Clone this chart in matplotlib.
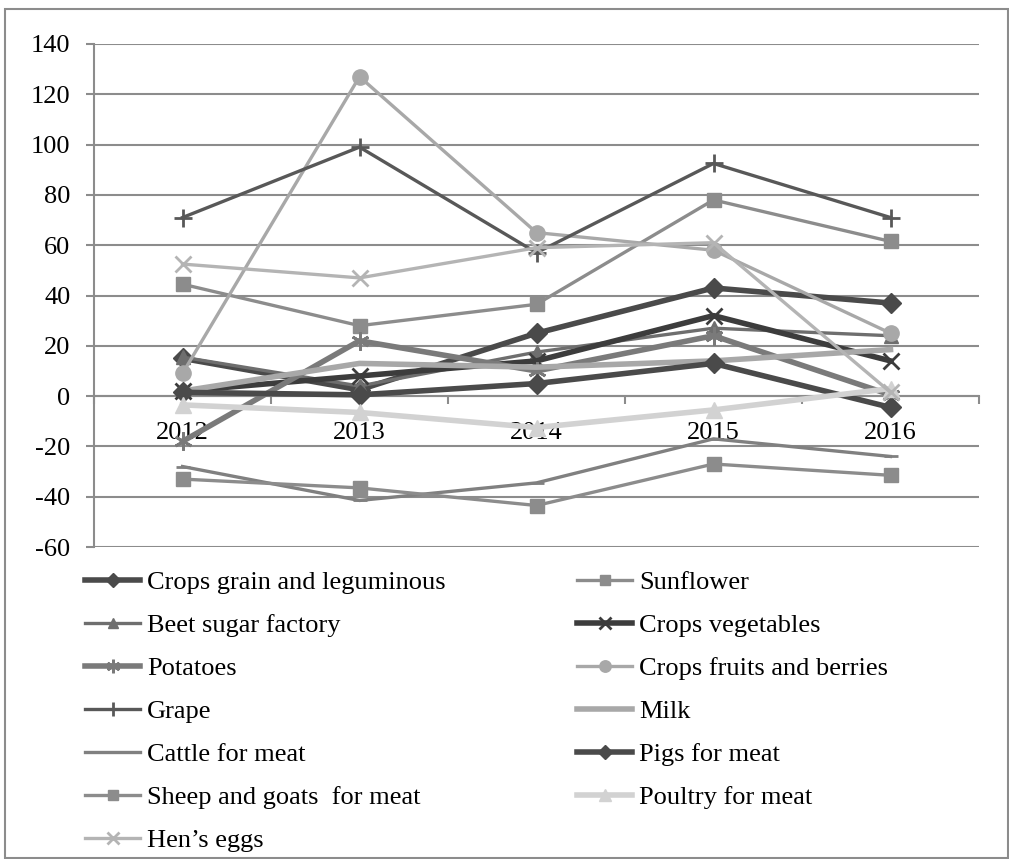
import matplotlib
matplotlib.use('Agg')
import matplotlib.pyplot as plt
from matplotlib.patches import Rectangle

plt.rcParams['font.family'] = ['Liberation Serif', 'DejaVu Serif']
plt.rcParams['axes.unicode_minus'] = False

years = ['2012', '2013', '2014', '2015', '2016']

crops_grain = [15, 2.5, 25, 43, 37]
sunflower = [44.5, 28, 36.5, 78, 61.5]
beet_sugar = [15.5, 4, 17.5, 27, 24]
crops_veg = [2, 8, 14, 32, 14]
potatoes = [-18, 22, 10, 24, 0.5]
crops_fruits = [9, 127, 65, 58, 25]
grape = [71, 99, 57, 92.5, 71]
milk = [2, 13, 11.5, 14, 18.5]
cattle = [-28, -41.5, -34.5, -17, -24]
pigs = [1.5, 0.5, 5, 13, -4.5]
sheep_goats = [-33, -36.5, -43.5, -27, -31.5]
poultry = [-3.5, -6.5, -12.5, -5.5, 3]
hens_eggs = [52.5, 47, 59, 61, 1.5]

labels = ['Crops grain and leguminous', 'Sunflower', 'Beet sugar factory',
          'Crops vegetables', 'Potatoes', 'Crops fruits and berries', 'Grape',
          'Milk', 'Cattle for meat', 'Pigs for meat', 'Sheep and goats  for meat',
          'Poultry for meat', 'Hen\u2019s eggs']
series = [crops_grain, sunflower, beet_sugar, crops_veg, potatoes, crops_fruits,
          grape, milk, cattle, pigs, sheep_goats, poultry, hens_eggs]

# (colour, marker, marker size, line width)
styles = [
    ('#4a4a4a', 'D', 10, 4),
    ('#8c8c8c', 's', 10, 2.4),
    ('#6e6e6e', '^', 10, 2.4),
    ('#3c3c3c', 'x', 12, 4),
    ('#7a7a7a', (6, 2, 0), 13, 4),
    ('#a8a8a8', 'o', 11, 2.4),
    ('#585858', '+', 13, 2.4),
    ('#a8a8a8', None, 0, 4),
    ('#808080', '_', 10, 2.4),
    ('#4a4a4a', 'D', 10, 4),
    ('#8c8c8c', 's', 10, 2.4),
    ('#d2d2d2', '^', 12, 4),
    ('#b4b4b4', 'x', 12, 2.4),
]

fig = plt.figure(figsize=(10.09, 8.59), dpi=100)
ax = fig.add_axes([94 / 1009, 1 - 547 / 859, 885 / 1009, 503 / 859])

x = list(range(len(years)))
handles = []
for vals, lab, (c, m, ms, lw) in zip(series, labels, styles):
    h, = ax.plot(x, vals, color=c, lw=lw, marker=m, markersize=ms,
                 markeredgewidth=2 if m in ('x', '+', '_', (6, 2, 0)) else 1,
                 markeredgecolor=c, markerfacecolor=c, label=lab, zorder=3)
    handles.append(h)

ax.set_xlim(-0.5, 4.5)
ax.set_ylim(-60, 140)
ax.set_yticks(range(-60, 141, 20))
ax.grid(axis='y', color='#8c8c8c', lw=1.5)
ax.set_axisbelow(True)

for s in ['top', 'right']:
    ax.spines[s].set_visible(False)
ax.spines['left'].set_color('#8c8c8c')
ax.spines['left'].set_linewidth(1.5)
ax.spines['bottom'].set_position(('data', 0))
ax.spines['bottom'].set_color('#8c8c8c')
ax.spines['bottom'].set_linewidth(1.5)

ax.set_xticks(x)
ax.set_xticklabels(years)
ax.set_xticks([i - 0.5 for i in range(len(years) + 1)], minor=True)
ax.tick_params(axis='x', which='major', length=0, pad=19, labelsize=19)
ax.tick_params(axis='x', which='minor', length=6, width=1.5, color='#8c8c8c',
               direction='out')
ax.tick_params(axis='y', length=6, width=1.5, color='#8c8c8c', pad=11,
               labelsize=19)

order_left = [0, 2, 4, 6, 8, 10, 12]
order_right = [1, 3, 5, 7, 9, 11]
leg_kw = dict(loc='upper left', frameon=False, fontsize=19, ncol=1,
              handlelength=2.1, handletextpad=0.25, labelspacing=0.74,
              borderpad=0, borderaxespad=0, markerscale=0.75)
fig.legend([handles[i] for i in order_left], [labels[i] for i in order_left],
           bbox_to_anchor=(85 / 1009, 1 - 571 / 859), **leg_kw)
fig.legend([handles[i] for i in order_right], [labels[i] for i in order_right],
           bbox_to_anchor=(577 / 1009, 1 - 571 / 859), **leg_kw)

fig.patches.append(Rectangle((5 / 1009, 1 - 858 / 859), 1003 / 1009, 849 / 859,
                             transform=fig.transFigure, fill=False,
                             edgecolor='#8c8c8c', lw=1.5))

fig.savefig('out.png', dpi=100)
